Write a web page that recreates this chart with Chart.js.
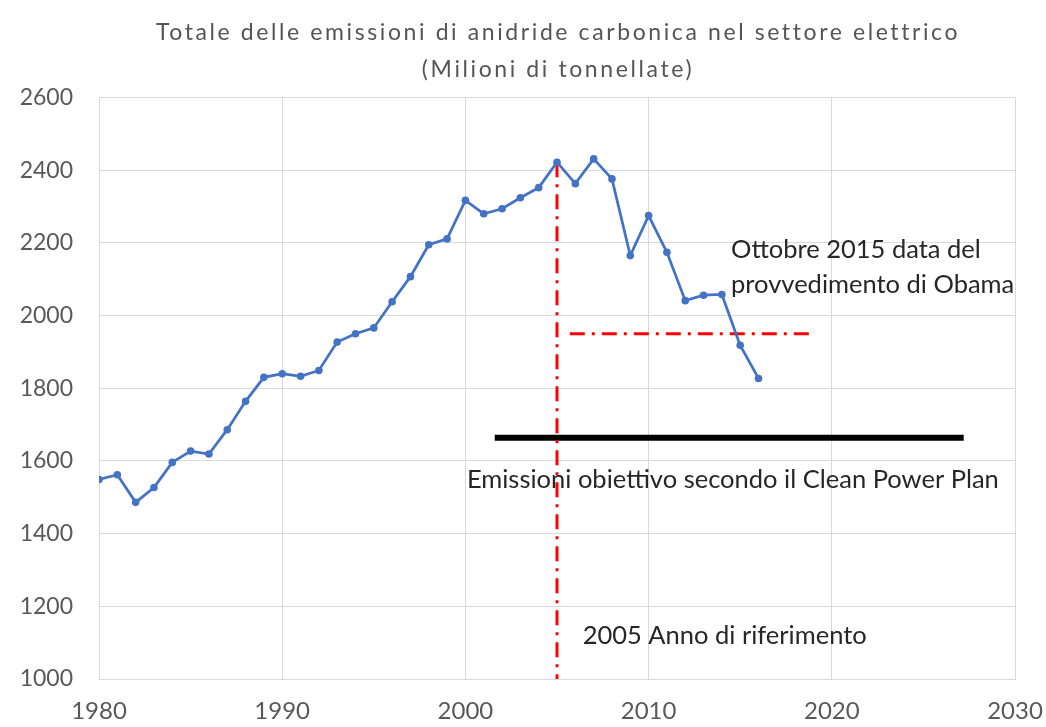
<!DOCTYPE html>
<html>
<head>
<meta charset="utf-8">
<script src="https://cdn.jsdelivr.net/npm/chart.js@4.4.1/dist/chart.umd.min.js"></script>
<style>
  html, body { margin: 0; padding: 0; background: #ffffff; }
  #wrap { width: 1046px; height: 727px; }
</style>
</head>
<body>
<div id="wrap"><canvas id="chart" width="1046" height="727"></canvas></div>
<script>
// Annual CO2 emissions of the US electric power sector (million tonnes)
const years = [1980, 1981, 1982, 1983, 1984, 1985, 1986, 1987, 1988, 1989,
               1990, 1991, 1992, 1993, 1994, 1995, 1996, 1997, 1998, 1999,
               2000, 2001, 2002, 2003, 2004, 2005, 2006, 2007, 2008, 2009,
               2010, 2011, 2012, 2013, 2014, 2015, 2016];
const emissions = [1549, 1562, 1486, 1527, 1596, 1627, 1619, 1686, 1764, 1830,
                   1840, 1833, 1849, 1927, 1950, 1966, 2038, 2107, 2195, 2211,
                   2317, 2280, 2294, 2324, 2352, 2422, 2363, 2431, 2376, 2165,
                   2275, 2174, 2041, 2056, 2058, 1918, 1827];

// Reference lines
const baseYear = 2005;
const obamaLevel = 1950;
const obamaYears = [2005.7, 2019];
const planLevel = 1664;
const planYears = [2001.6, 2027.2];

// Axis ticks
const xTicks = [1980, 1990, 2000, 2010, 2020, 2030];
const yTicks = [1000, 1200, 1400, 1600, 1800, 2000, 2200, 2400, 2600];

const titleLines = ['Totale delle emissioni di anidride carbonica nel settore elettrico',
                    '(Milioni di tonnellate)'];

const baseValue = emissions[years.indexOf(baseYear)];

const notes = [
  { lines: ['Ottobre 2015 data del', 'provvedimento di Obama'], x: 2014.5, y: 2182, lineGap: 35, align: 'left' },
  { lines: ['Emissioni obiettivo secondo il Clean Power Plan'], x: 2014.6, y: 1549, lineGap: 0, align: 'center' },
  { lines: ['2005 Anno di riferimento'], x: 2006.4, y: 1119, lineGap: 0, align: 'left' }
];

const FONT = 'Lato, "Open Sans", sans-serif';

const notePlugin = {
  id: 'notes',
  afterDatasetsDraw(chart) {
    const { ctx, scales: { x, y } } = chart;
    ctx.save();
    ctx.fillStyle = '#262626';
    ctx.font = '25.5px ' + FONT;
    ctx.textBaseline = 'middle';
    notes.forEach(n => {
      ctx.textAlign = n.align;
      const px = x.getPixelForValue(n.x);
      const py = y.getPixelForValue(n.y);
      n.lines.forEach((t, i) => ctx.fillText(t, px, py + i * n.lineGap));
    });
    ctx.restore();
  }
};

const titlePlugin = {
  id: 'twoLineTitle',
  afterDraw(chart) {
    const { ctx } = chart;
    ctx.save();
    ctx.fillStyle = '#555555';
    ctx.font = '23px ' + FONT;
    ctx.letterSpacing = '2.6px';
    ctx.textAlign = 'center';
    ctx.textBaseline = 'middle';
    ctx.fillText(titleLines[0], 558, 33);
    ctx.fillText(titleLines[1], 558, 70);
    ctx.restore();
  }
};

new Chart(document.getElementById('chart'), {
  type: 'line',
  data: {
    datasets: [
      {
        label: 'Emissioni',
        data: years.map((yr, i) => ({ x: yr, y: emissions[i] })),
        borderColor: '#4472C4',
        backgroundColor: '#4472C4',
        borderWidth: 2.75,
        pointRadius: 3.8,
        pointBorderWidth: 0,
        tension: 0,
        order: 1
      },
      {
        label: 'Anno di riferimento',
        data: [{ x: baseYear, y: baseValue }, { x: baseYear, y: 1000 }],
        borderColor: '#FF0000',
        borderWidth: 3,
        borderDash: [15, 7, 3, 7],
        pointRadius: 0,
        order: 2
      },
      {
        label: 'Provvedimento',
        data: [{ x: obamaYears[0], y: obamaLevel }, { x: obamaYears[1], y: obamaLevel }],
        borderColor: '#FF0000',
        borderWidth: 3,
        borderDash: [15, 7, 3, 7],
        pointRadius: 0,
        order: 2
      },
      {
        label: 'Clean Power Plan',
        data: [{ x: planYears[0], y: planLevel }, { x: planYears[1], y: planLevel }],
        borderColor: '#000000',
        borderWidth: 6,
        pointRadius: 0,
        order: 3
      }
    ]
  },
  options: {
    responsive: false,
    animation: false,
    layout: { padding: { top: 97.5, right: 31, bottom: 0, left: 0 } },
    plugins: {
      legend: { display: false },
      tooltip: { enabled: false },
      title: { display: false }
    },
    scales: {
      x: {
        type: 'linear',
        min: 1980,
        max: 2030,
        afterBuildTicks(scale) { scale.ticks = xTicks.map(v => ({ value: v })); },
        afterFit(scale) {
          scale.height = 48;
          scale.paddingLeft = 0;
          scale.paddingRight = 0;
        },
        grid: { color: '#d9d9d9', lineWidth: 1, drawTicks: false },
        border: { color: '#d9d9d9' },
        ticks: {
          color: '#595959',
          font: { family: FONT, size: 24 },
          padding: 18,
          maxRotation: 0,
          callback: v => String(v)
        }
      },
      y: {
        min: 1000,
        max: 2600,
        afterBuildTicks(scale) { scale.ticks = yTicks.map(v => ({ value: v })); },
        afterFit(scale) {
          scale.width = 99;
          scale.paddingTop = 0;
          scale.paddingBottom = 0;
        },
        grid: { color: '#d9d9d9', lineWidth: 1, drawTicks: false },
        border: { color: '#d9d9d9' },
        ticks: {
          color: '#595959',
          font: { family: FONT, size: 23 },
          padding: 26,
          callback: v => String(v)
        }
      }
    }
  },
  plugins: [notePlugin, titlePlugin]
});
</script>
</body>
</html>
